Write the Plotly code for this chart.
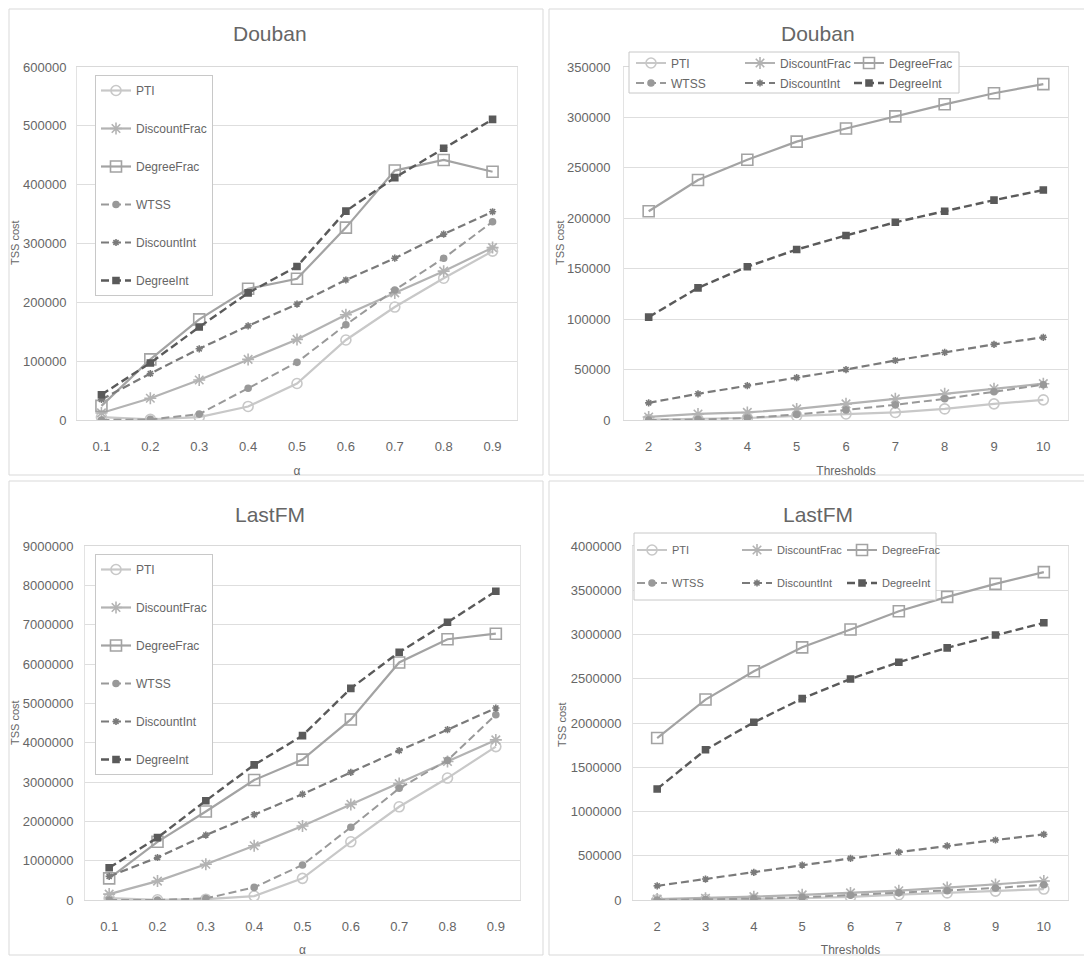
import plotly.graph_objects as go

# ---------------- data ----------------
alpha = ["0.1", "0.2", "0.3", "0.4", "0.5", "0.6", "0.7", "0.8", "0.9"]
thresholds = [2, 3, 4, 5, 6, 7, 8, 9, 10]
series_names = ["PTI", "DiscountFrac", "DegreeFrac", "WTSS", "DiscountInt", "DegreeInt"]

# Douban vs alpha
douban_alpha_pti = [5000, 1000, 5000, 23000, 62000, 136000, 192000, 241000, 287000]
douban_alpha_discountfrac = [12000, 37000, 68000, 103000, 137000, 179000, 216000, 253000, 293000]
douban_alpha_degreefrac = [24000, 103000, 171000, 223000, 240000, 327000, 424000, 442000, 422000]
douban_alpha_wtss = [0, 1000, 10000, 54000, 98000, 162000, 221000, 275000, 337000]
douban_alpha_discountint = [35000, 79000, 121000, 160000, 197000, 238000, 275000, 316000, 354000]
douban_alpha_degreeint = [43000, 97000, 158000, 216000, 261000, 355000, 412000, 462000, 511000]

# Douban vs thresholds
douban_thr_pti = [500, 1000, 2000, 4000, 6000, 7500, 11000, 16000, 20000]
douban_thr_discountfrac = [3000, 6000, 7500, 11000, 16000, 21000, 26000, 31000, 36000]
douban_thr_degreefrac = [207000, 238000, 258000, 276000, 289000, 301000, 313000, 324000, 333000]
douban_thr_wtss = [0, 500, 2000, 5500, 10000, 15000, 21000, 28000, 35000]
douban_thr_discountint = [17000, 26000, 34000, 42000, 50000, 59000, 67000, 75000, 82000]
douban_thr_degreeint = [102000, 131000, 152000, 169000, 183000, 196000, 207000, 218000, 228000]

# LastFM vs alpha
lastfm_alpha_pti = [50000, 5000, 20000, 100000, 550000, 1480000, 2370000, 3100000, 3900000]
lastfm_alpha_discountfrac = [150000, 480000, 910000, 1380000, 1880000, 2430000, 2960000, 3520000, 4070000]
lastfm_alpha_degreefrac = [550000, 1480000, 2250000, 3050000, 3570000, 4590000, 6040000, 6630000, 6770000]
lastfm_alpha_wtss = [0, 0, 40000, 320000, 890000, 1850000, 2840000, 3550000, 4710000]
lastfm_alpha_discountint = [600000, 1080000, 1650000, 2170000, 2690000, 3245000, 3800000, 4330000, 4880000]
lastfm_alpha_degreeint = [820000, 1585000, 2525000, 3435000, 4180000, 5380000, 6300000, 7060000, 7850000]

# LastFM vs thresholds
lastfm_thr_pti = [2000, 5000, 10000, 20000, 35000, 60000, 80000, 100000, 124000]
lastfm_thr_discountfrac = [10000, 20000, 38000, 58000, 80000, 105000, 140000, 175000, 215000]
lastfm_thr_degreefrac = [1830000, 2265000, 2585000, 2855000, 3057000, 3262000, 3425000, 3572000, 3705000]
lastfm_thr_wtss = [0, 5000, 15000, 30000, 55000, 82000, 105000, 135000, 173000]
lastfm_thr_discountint = [160000, 237000, 312000, 395000, 470000, 540000, 612000, 678000, 742000]
lastfm_thr_degreeint = [1255000, 1697000, 2008000, 2275000, 2498000, 2687000, 2849000, 2994000, 3132000]

# ---------------- styles ----------------
FONT = "Liberation Sans, Arial, sans-serif"
TXT = "#666666"
OFF = 8                      # page body margin
W, H = 1092 - OFF, 957 - OFF
DASH = "8px,4px"

styles = {
    "PTI":          dict(color="#c8c8c8", dash="solid", symbol="circle-open",   size=10, lw=2.2),
    "DiscountFrac": dict(color="#b3b3b3", dash="solid", symbol="asterisk-open", size=10, lw=2.2),
    "DegreeFrac":   dict(color="#a3a3a3", dash="solid", symbol="square-open",   size=11, lw=2.2),
    "WTSS":         dict(color="#999999", dash=DASH,    symbol="circle",        size=6,  lw=2.0),
    "DiscountInt":  dict(color="#7a7a7a", dash=DASH,    symbol="asterisk-open", size=6,  lw=2.2),
    "DegreeInt":    dict(color="#5a5a5a", dash=DASH,    symbol="square",        size=6,  lw=2.4),
}

def px_x(p):
    return (p - OFF) / W

def px_y(p):
    return 1 - (p - OFF) / H

fig = go.Figure()

panels = [
    dict(xa="x", ya="y", x=alpha, data=[douban_alpha_pti, douban_alpha_discountfrac, douban_alpha_degreefrac,
                                        douban_alpha_wtss, douban_alpha_discountint, douban_alpha_degreeint],
         legends=["legend"] * 6, group=True),
    dict(xa="x2", ya="y2", x=thresholds, data=[douban_thr_pti, douban_thr_discountfrac, douban_thr_degreefrac,
                                               douban_thr_wtss, douban_thr_discountint, douban_thr_degreeint],
         legends=["legend2"] * 3 + ["legend3"] * 3, group=False),
    dict(xa="x3", ya="y3", x=alpha, data=[lastfm_alpha_pti, lastfm_alpha_discountfrac, lastfm_alpha_degreefrac,
                                          lastfm_alpha_wtss, lastfm_alpha_discountint, lastfm_alpha_degreeint],
         legends=["legend6"] * 6, group=True),
    dict(xa="x4", ya="y4", x=thresholds, data=[lastfm_thr_pti, lastfm_thr_discountfrac, lastfm_thr_degreefrac,
                                               lastfm_thr_wtss, lastfm_thr_discountint, lastfm_thr_degreeint],
         legends=["legend4"] * 3 + ["legend5"] * 3, group=False),
]

for pi, p in enumerate(panels):
    for name, ys, lg in zip(series_names, p["data"], p["legends"]):
        s = styles[name]
        kw = {}
        if p["group"]:
            kw["legendgroup"] = f"p{pi}-{name}"
        fig.add_trace(go.Scatter(
            x=p["x"], y=ys, name=name, mode="lines+markers",
            xaxis=p["xa"], yaxis=p["ya"], legend=lg,
            line=dict(color=s["color"], dash=s["dash"], width=s["lw"]),
            marker=dict(symbol=s["symbol"], size=s["size"], color=s["color"],
                        line=dict(color=s["color"], width=1.6)),
            **kw,
        ))

def xaxis_cfg(domain, title, categorical, anchor):
    d = dict(domain=domain, anchor=anchor, showgrid=False, zeroline=False,
             showline=True, linecolor="#d9d9d9", linewidth=1, mirror=True,
             ticks="", ticklabelstandoff=14,
             tickfont=dict(family=FONT, size=13, color=TXT),
             title=dict(text=title, font=dict(family=FONT, size=12, color=TXT), standoff=14))
    if categorical:
        d.update(type="category", range=[-0.5, 8.5])
    else:
        d.update(range=[1.5, 10.5], tickmode="array", tickvals=thresholds)
    return d

def yaxis_cfg(domain, rng, dtick, standoff, anchor):
    return dict(domain=domain, anchor=anchor, range=rng, dtick=dtick, showgrid=True, gridcolor="#dedede",
                gridwidth=1, zeroline=False, showline=True, linecolor="#e3e3e3", mirror=True,
                ticks="", ticklabelstandoff=standoff, tickformat="d",
                tickfont=dict(family=FONT, size=13, color=TXT))

# plot area pixel boxes (x0, x1, ytop, ybottom) in page pixels
p1 = (77, 517, 67, 420)
p2 = (624, 1068, 67, 420)
p3 = (85, 520, 546, 900)
p4 = (633, 1068, 546, 900)

def dom(box):
    x0, x1, y0, y1 = box
    return [px_x(x0), px_x(x1)], [px_y(y1), px_y(y0)]

d1x, d1y = dom(p1)
d2x, d2y = dom(p2)
d3x, d3y = dom(p3)
d4x, d4y = dom(p4)

def vleg(xpx, ypx):
    return dict(x=px_x(xpx), y=px_y(ypx), xanchor="left", yanchor="top", orientation="v",
                bgcolor="white", bordercolor="#c8c8c8", borderwidth=1,
                font=dict(family=FONT, size=12, color=TXT),
                tracegroupgap=19, itemwidth=30)

def hleg(xpx, ypx, ew, fs):
    return dict(x=px_x(xpx), y=px_y(ypx), xanchor="left", yanchor="middle", orientation="h",
                bgcolor="rgba(0,0,0,0)", borderwidth=0,
                font=dict(family=FONT, size=fs, color=TXT), itemwidth=30,
                entrywidth=ew, entrywidthmode="pixels")

titles = [
    ("Douban", 270, 33), ("Douban", 818, 33),
    ("LastFM", 270, 514), ("LastFM", 818, 514),
]
annotations = [dict(text=t, x=px_x(xp), y=px_y(yp), xref="paper", yref="paper",
                    showarrow=False, xanchor="center", yanchor="middle",
                    font=dict(family=FONT, size=21, color=TXT)) for t, xp, yp in titles]

ytitles = [(15, 243), (560, 243), (15, 723), (562, 725)]
annotations += [dict(text="TSS cost", x=px_x(xp), y=px_y(yp), xref="paper", yref="paper",
                     showarrow=False, xanchor="center", yanchor="middle", textangle=-90,
                     font=dict(family=FONT, size=11, color=TXT)) for xp, yp in ytitles]

def rect(x0, y0, x1, y1, color="#d9d9d9", fill="rgba(0,0,0,0)", layer="below"):
    return dict(type="rect", xref="paper", yref="paper",
                x0=px_x(x0), x1=px_x(x1), y0=px_y(y1), y1=px_y(y0),
                line=dict(color=color, width=1), fillcolor=fill, layer=layer)

shapes = [
    rect(9, 9, 543, 475), rect(549, 9, 1089, 475),
    rect(9, 481, 543, 955), rect(549, 481, 1089, 955),
    rect(629, 52, 959, 93, color="#c8c8c8", fill="white", layer="above"),
    rect(634, 533, 936, 600, color="#c8c8c8", fill="white", layer="above"),
]

fig.update_layout(
    template="none",
    width=W, height=H,
    margin=dict(l=0, r=0, t=0, b=0),
    paper_bgcolor="white", plot_bgcolor="white",
    font=dict(family=FONT, color=TXT),
    xaxis=xaxis_cfg(d1x, "α", True, "y"), yaxis=yaxis_cfg(d1y, [0, 600000], 100000, 7, "x"),
    xaxis2=xaxis_cfg(d2x, "Thresholds", False, "y2"), yaxis2=yaxis_cfg(d2y, [0, 350000], 50000, 10, "x2"),
    xaxis3=xaxis_cfg(d3x, "α", True, "y3"), yaxis3=yaxis_cfg(d3y, [0, 9000000], 1000000, 8, "x3"),
    xaxis4=xaxis_cfg(d4x, "Thresholds", False, "y4"), yaxis4=yaxis_cfg(d4y, [0, 4000000], 500000, 8, "x4"),
    legend=vleg(95, 75),
    legend6=vleg(95, 554),
    legend2=hleg(631, 63, 64, 12),
    legend3=hleg(631, 83, 64, 12),
    legend4=hleg(632, 550, 60, 11),
    legend5=hleg(632, 583, 60, 11),
    annotations=annotations,
    shapes=shapes,
    showlegend=True,
)

fig.write_html("out.html")
